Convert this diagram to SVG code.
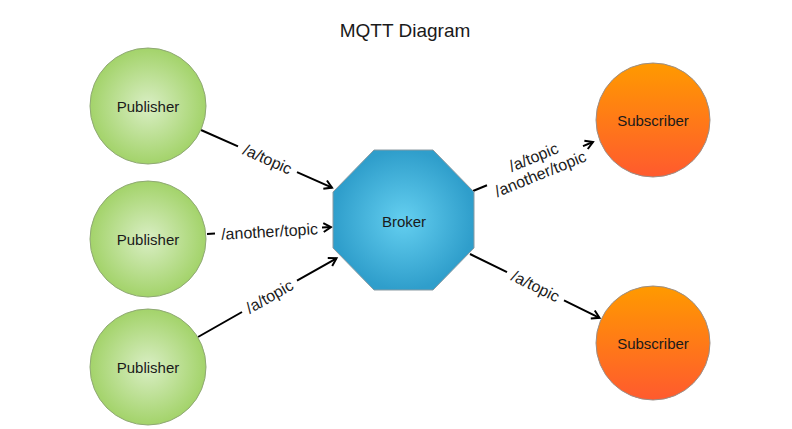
<svg xmlns="http://www.w3.org/2000/svg" width="792" height="429" viewBox="0 0 792 429">
  <style>
    text { font-family: "Liberation Sans", Arial, Helvetica, sans-serif; fill: #1a1a1a; }
    .title { font-size: 19px; text-anchor: middle; }
    .nlabel { font-size: 15px; text-anchor: middle; }
    .elabel { font-size: 16px; text-anchor: middle; }
    .pub { fill: url(#gPub); stroke: #8fa874; stroke-width: 1; }
    .sub { fill: url(#gSub); stroke: #9a8f88; stroke-width: 1; }
    .broker { fill: url(#gBroker); stroke: #8a9aa2; stroke-width: 1; }
    .conn { fill: none; stroke: #000; stroke-width: 2; marker-end: url(#arrow); }
  </style>
  <defs>
    <radialGradient id="gPub" cx="50%" cy="50%" r="50%">
      <stop offset="0" stop-color="#d9eec4"/>
      <stop offset="1" stop-color="#a3d36a"/>
    </radialGradient>
    <linearGradient id="gSub" x1="0" y1="0" x2="0" y2="1">
      <stop offset="0" stop-color="#ff9a00"/>
      <stop offset="1" stop-color="#ff5a2e"/>
    </linearGradient>
    <radialGradient id="gBroker" cx="50%" cy="50%" r="50%">
      <stop offset="0" stop-color="#64cff0"/>
      <stop offset="1" stop-color="#2f9ecb"/>
    </radialGradient>
    <marker id="arrow" markerUnits="userSpaceOnUse" markerWidth="14" markerHeight="14" viewBox="-10 -7 12 14" refX="0" refY="0" orient="auto">
      <path d="M-7.5,-4.5 L0,0 L-7.5,4.5" fill="none" stroke="#000" stroke-width="2"/>
    </marker>
  </defs>

  <text class="title" x="405" y="37">MQTT Diagram</text>

  <g id="connectors">
    <g id="c1">
      <path class="conn" d="M201,130 L238,146.3 M297,172.2 L332,187.6"/>
      <text class="elabel" transform="translate(267.5,159.2) rotate(24)" y="5.5">/a/topic</text>
    </g>
    <g id="c2">
      <path class="conn" d="M207,234 L215,233.6 M322,227.6 L331,227.1"/>
      <text class="elabel" transform="translate(269.5,231.5) rotate(-3.3)" y="5.5">/another/topic</text>
    </g>
    <g id="c3">
      <path class="conn" d="M198,337 L242,312 M297,280.7 L336.5,258.3"/>
      <text class="elabel" transform="translate(269.5,296.5) rotate(-29.6)" y="5.5">/a/topic</text>
    </g>
    <g id="c4">
      <path class="conn" d="M473,191 L487,185.3 M583,146.1 L593,142"/>
      <text class="elabel" transform="translate(537,165.5) rotate(-22.2)"><tspan x="0" y="-3.5">/a/topic</tspan><tspan x="0" y="14.5">/another/topic</tspan></text>
    </g>
    <g id="c5">
      <path class="conn" d="M470,254 L507,272.2 M564,300.3 L599.5,317.8"/>
      <text class="elabel" transform="translate(535.5,286.2) rotate(26.2)" y="5.5">/a/topic</text>
    </g>
  </g>

  <g id="publisher1">
    <circle class="pub" cx="148" cy="106" r="58"/>
    <text class="nlabel" x="148" y="111.5">Publisher</text>
  </g>
  <g id="publisher2">
    <circle class="pub" cx="148" cy="239" r="58"/>
    <text class="nlabel" x="148" y="244.5">Publisher</text>
  </g>
  <g id="publisher3">
    <circle class="pub" cx="148" cy="367" r="58"/>
    <text class="nlabel" x="148" y="372.5">Publisher</text>
  </g>
  <g id="broker">
    <polygon class="broker" points="374,150 433,150 474,192 474,248 433,290 374,290 333,248 333,192"/>
    <text class="nlabel" x="404" y="227">Broker</text>
  </g>
  <g id="subscriber1">
    <circle class="sub" cx="653" cy="120" r="57"/>
    <text class="nlabel" x="653" y="125.5">Subscriber</text>
  </g>
  <g id="subscriber2">
    <circle class="sub" cx="653" cy="343" r="57"/>
    <text class="nlabel" x="653" y="349">Subscriber</text>
  </g>
</svg>
